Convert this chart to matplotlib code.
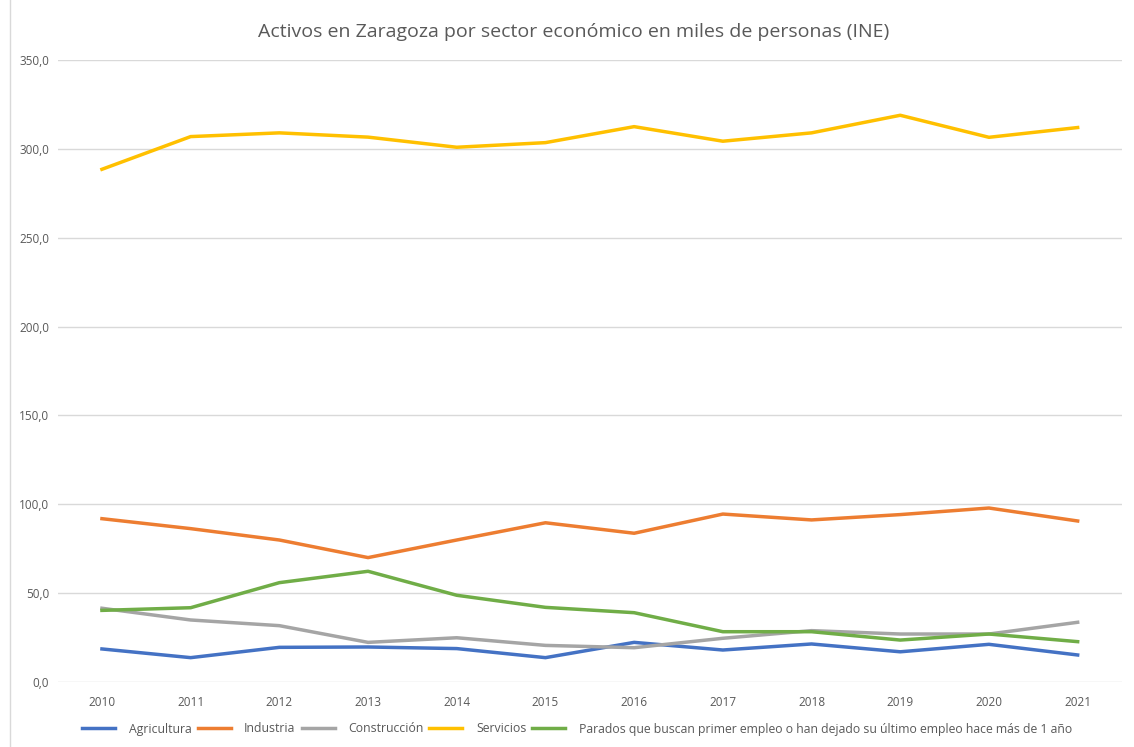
import matplotlib.pyplot as plt
from matplotlib.ticker import FuncFormatter

years = ['2010', '2011', '2012', '2013', '2014', '2015', '2016', '2017', '2018', '2019', '2020', '2021']
agricultura = [18.6, 13.7, 19.5, 19.7, 18.8, 13.7, 22.3, 18.0, 21.4, 17.0, 21.2, 15.2]
industria = [91.9, 86.3, 79.9, 70.0, 79.9, 89.6, 83.7, 94.5, 91.2, 94.2, 97.9, 90.6]
construccion = [41.5, 34.9, 31.7, 22.3, 24.9, 20.6, 19.3, 24.6, 28.9, 27.0, 27.0, 33.6]
servicios = [288.5, 306.9, 309.0, 306.6, 300.9, 303.5, 312.5, 304.3, 309.0, 318.9, 306.5, 312.0]
parados = [40.3, 41.8, 55.9, 62.3, 48.8, 42.0, 39.0, 28.3, 28.3, 23.6, 27.0, 22.7]

series = [
    ('Agricultura', agricultura, '#4472C4'),
    ('Industria', industria, '#ED7D31'),
    ('Construcción', construccion, '#A5A5A5'),
    ('Servicios', servicios, '#FFC000'),
    ('Parados que buscan primer empleo o han dejado su último empleo hace más de 1 año', parados, '#70AD47'),
]

plt.rcParams['font.family'] = ['Open Sans', 'DejaVu Sans']

fig = plt.figure(figsize=(11.34, 7.47), dpi=100)
ax = fig.add_axes([57.6 / 1134, 1 - 682 / 747, (1122 - 57.6) / 1134, (682 - 60) / 747])

x = range(len(years))
for name, vals, color in series:
    ax.plot(x, vals, color=color, linewidth=2.5, label=name, solid_joinstyle='round')

ax.set_xlim(-0.5, len(years) - 0.5)
ax.set_ylim(0, 350)
ax.set_yticks(range(0, 351, 50))
ax.yaxis.set_major_formatter(FuncFormatter(lambda v, p: f'{v:.1f}'.replace('.', ',')))
ax.set_xticks(list(x))
ax.set_xticklabels(years)
ax.grid(axis='y', color='#D9D9D9', linewidth=1)
ax.set_axisbelow(True)
for s in ax.spines.values():
    s.set_visible(False)
ax.tick_params(length=0, labelsize=8.5, colors='#595959', pad=10)
ax.tick_params(axis='y', pad=6)

fig.text(0.506, 1 - 32 / 747, 'Activos en Zaragoza por sector económico en miles de personas (INE)',
         ha='center', va='center', fontsize=14, color='#595959')

fig.legend(loc='center', bbox_to_anchor=(0.509, 1 - 729 / 747), ncol=5, frameon=False,
           fontsize=8.8, labelcolor='#595959', handlelength=2.7, columnspacing=0.5, handletextpad=1.1)

fig.add_artist(plt.Line2D([10 / 1134, 10 / 1134], [0, 1], color='#D9D9D9', linewidth=1))

fig.savefig('out.png', dpi=100)
